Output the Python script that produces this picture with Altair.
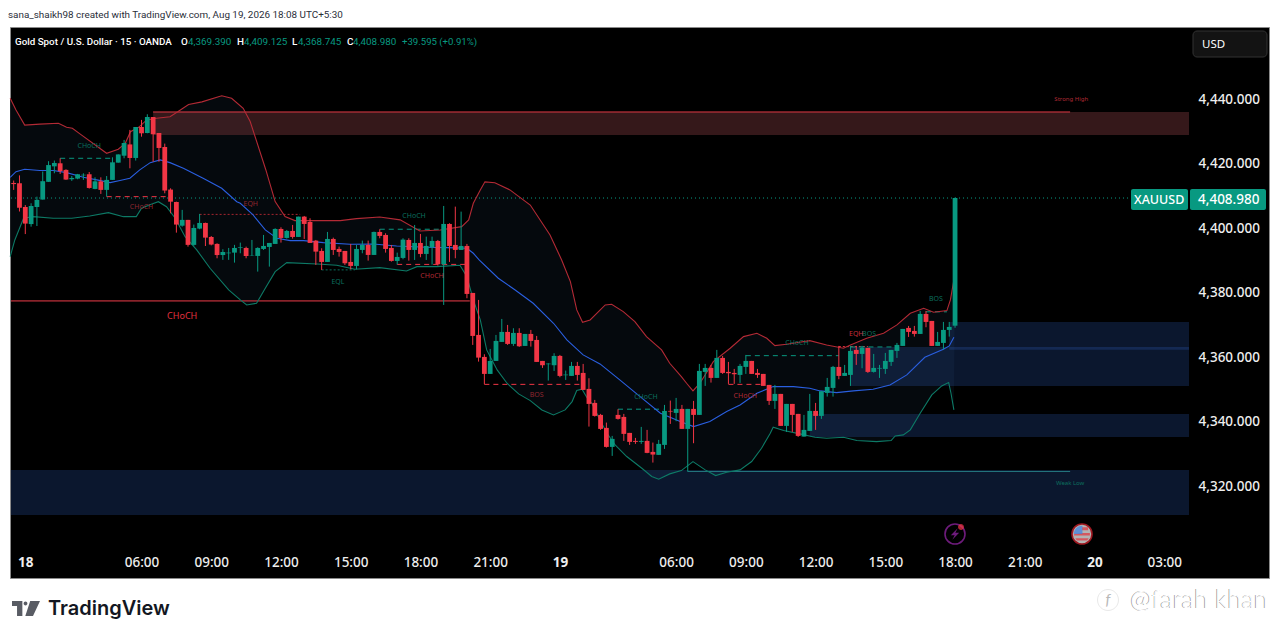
import altair as alt
import pandas as pd

FONT = "Noto Sans"
UI = "Roboto"
GREEN = "#089981"
RED = "#f23645"

first_bar = -22
opens = [4413.65,4413.55,4406.2,4400.9,4406.2,4408.5,4414.0,4418.8,4419.75,4417.7,
 4414.8,4415.0,4416.0,4416.35,4411.8,4414.15,4411.5,4414.6,4419.95,4422.1,
 4425.6,4421.4,4431.0,4429.15,4434.1,4429.15,4424.8,4411.6,4407.75,4400.4,
 4402.2,4394.45,4399.5,4401.25,4396.9,4394.75,4391.3,4391.85,4392.05,4393.5,
 4393.5,4391.12,4391.02,4393.19,4393.81,4394.74,4399.39,4396.6,4398.77,4396.91,
 4403.21,4401.56,4395.77,4392.57,4389.16,4396.29,4393.19,4392.57,4389.16,4387.92,
 4392.88,4394.43,4391.33,4398.46,4397.53,4393.5,4389.47,4390.4,4395.98,4392.88,
 4395.05,4391.64,4393.71,4395.67,4388.44,4400.94,4394.43,4392.88,4394.12,4379.55,
 4366.53,4359.71,4354.44,4358.47,4364.36,4367.46,4363.74,4367.15,4363.12,4366.84,
 4364.98,4358.47,4357.44,4357.13,4360.02,4354.03,4353.82,4356.92,4354.75,4349.79,
 4345.45,4341.73,4337.7,4331.81,4341.73,4341.11,4336.15,4333.67,4333.36,4333.67,
 4330.26,4329.33,4332.43,4342.97,4342.35,4343.59,4337.39,4343.59,4341.73,4355.06,
 4356.3,4353.2,4359.4,4355.06,4354.75,4354.13,4356.61,4358.47,4354.75,4354.44,
 4351.03,4346.07,4348.24,4338.32,4345.14,4342.04,4335.01,4336.77,4342.97,4341.42,
 4348.55,4350.1,4356.61,4353.82,4354.13,4361.88,4360.64,4362.5,4355.06,4356.09,
 4355.99,4358.16,4361.57,4363.12,4368.7,4367.77,4366.84,4373.04,4370.87,4363.12,
 4364.05,4368.08,4369.39]
highs = [4414.4,4416.0,4406.8,4407.35,4409.4,4417.2,4420.4,4420.6,4421.3,4417.9,
 4415.8,4416.45,4416.65,4417.05,4415.4,4415.4,4415.8,4421.6,4422.5,4427.0,
 4430.1,4431.0,4433.2,4434.95,4434.1,4429.15,4425.85,4412.0,4407.85,4405.3,
 4402.2,4400.75,4404.05,4401.35,4397.2,4394.95,4393.1,4393.5,4394.45,4395.15,
 4393.9,4395.98,4393.71,4397.53,4395.05,4399.6,4399.91,4399.08,4400.63,4403.21,
 4403.42,4402.7,4395.98,4393.4,4398.46,4396.7,4393.91,4392.57,4394.74,4394.43,
 4395.77,4395.77,4398.56,4399.29,4398.05,4394.43,4392.05,4396.5,4396.5,4400.63,
 4397.84,4397.01,4397.01,4395.98,4406.52,4401.15,4406.31,4404.76,4394.74,4379.55,
 4377.38,4360.54,4362.19,4366.53,4371.49,4369.63,4368.6,4368.6,4366.84,4368.08,
 4366.22,4358.47,4357.75,4360.85,4360.33,4355.47,4358.16,4358.16,4357.54,4353.1,
 4346.38,4342.04,4339.35,4335.22,4343.49,4342.04,4336.15,4334.6,4338.01,4337.08,
 4333.15,4333.98,4344.83,4346.17,4347.0,4344.83,4343.59,4346.07,4357.54,4357.54,
 4357.23,4361.88,4360.02,4358.16,4355.99,4357.54,4360.33,4358.47,4355.99,4354.44,
 4351.03,4351.03,4348.24,4345.14,4345.14,4342.04,4341.73,4348.24,4345.45,4349.07,
 4353.2,4356.92,4363.12,4357.23,4363.12,4363.12,4363.12,4362.5,4360.64,4357.23,
 4360.95,4361.88,4364.05,4368.39,4369.32,4369.32,4373.97,4373.97,4370.87,4367.46,
 4370.56,4370.56,4409.125]
lows = [4411.5,4404.8,4397.8,4400.1,4400.3,4408.5,4414.0,4416.65,4416.45,4414.6,
 4414.3,4414.8,4414.6,4411.9,4411.7,4410.25,4409.4,4414.6,4419.95,4421.3,
 4418.2,4420.6,4428.0,4429.05,4420.25,4420.25,4410.45,4404.25,4398.25,4400.1,
 4393.9,4394.2,4399.3,4394.1,4394.3,4390.3,4389.8,4389.8,4388.95,4391.85,
 4390.3,4391.02,4386.16,4392.88,4387.71,4394.74,4395.15,4396.39,4396.39,4396.91,
 4396.29,4395.05,4388.23,4386.68,4389.16,4391.33,4390.81,4388.23,4386.89,4386.89,
 4391.85,4389.57,4391.33,4396.5,4392.05,4389.26,4388.33,4389.99,4389.57,4389.78,
 4390.61,4389.78,4388.33,4388.02,4375.83,4389.16,4390.3,4392.88,4377.9,4363.43,
 4358.26,4351.24,4354.44,4358.47,4364.36,4363.43,4363.12,4362.81,4363.12,4362.91,
 4358.16,4356.3,4352.37,4355.37,4353.41,4352.58,4353.82,4352.37,4349.48,4338.11,
 4341.21,4337.08,4331.6,4329.02,4340.28,4333.67,4332.43,4332.74,4332.74,4329.85,
 4326.95,4329.33,4331.19,4338.94,4339.77,4337.39,4324.17,4332.95,4341.73,4350.72,
 4351.75,4353.2,4354.44,4351.34,4351.34,4351.65,4354.44,4354.44,4353.2,4350.72,
 4344.83,4343.59,4338.32,4336.46,4336.46,4334.91,4335.01,4336.77,4337.08,4340.49,
 4347.41,4347.41,4352.79,4353.82,4350.72,4357.23,4356.2,4354.75,4354.85,4353.2,
 4354.44,4356.92,4359.4,4363.12,4365.91,4366.01,4366.84,4368.91,4363.12,4363.12,
 4362.09,4366.01,4368.745]
closes = [4413.3,4406.0,4401.05,4406.5,4408.4,4414.2,4419.2,4419.85,4417.3,4414.7,
 4415.2,4416.35,4416.2,4412.1,4414.15,4411.5,4414.6,4420.05,4422.5,4426.05,
 4421.4,4431.0,4429.05,4434.1,4428.75,4424.5,4411.3,4407.85,4400.75,4402.2,
 4394.45,4399.7,4401.25,4396.7,4394.55,4391.3,4392.25,4392.05,4393.5,4393.7,
 4391.0,4391.23,4393.5,4394.12,4395.05,4399.39,4396.6,4398.77,4396.91,4403.21,
 4400.94,4395.05,4392.36,4389.16,4396.29,4392.88,4392.26,4388.75,4387.92,4393.19,
 4394.43,4391.33,4398.46,4397.22,4393.19,4389.47,4390.71,4396.08,4392.88,4395.05,
 4391.64,4394.12,4395.67,4388.44,4400.94,4394.12,4392.88,4394.12,4379.24,4366.22,
 4359.5,4354.44,4358.47,4364.67,4367.46,4363.74,4367.15,4363.02,4366.84,4364.67,
 4358.16,4357.13,4357.64,4360.02,4353.82,4354.23,4356.92,4354.13,4349.48,4345.14,
 4341.42,4337.39,4331.81,4334.29,4340.49,4335.84,4333.36,4333.36,4333.67,4329.95,
 4329.43,4332.74,4342.97,4342.76,4343.59,4337.39,4343.59,4341.73,4355.37,4356.3,
 4353.2,4359.4,4354.75,4354.65,4354.34,4356.92,4358.47,4354.44,4354.13,4350.72,
 4346.07,4348.24,4338.32,4345.14,4341.73,4335.22,4337.08,4342.97,4341.42,4349.07,
 4350.41,4356.61,4353.82,4354.75,4361.57,4360.64,4362.5,4355.06,4356.3,4356.3,
 4358.47,4361.88,4363.43,4368.39,4367.46,4366.84,4373.04,4370.56,4363.12,4364.36,
 4368.08,4369.01,4408.98]

upper_x = [-22.6,-21.6,-20.1,-17.5,-14.3,-12.9,-11.9,-10.3,-6,-4,-2.8,-1.9,-0.5,0.9,2.6,4.9,6.3,8.1,10.4,13.8,15.5,17.5,18.7,
 21.4,23,24.7,26.4,29.3,34.2,37,41,44.5,47.9,51.4,55.1,56.3,57.1,58.3,59.1,60.8,63.4,66.9,70.3,72.3,73.8,74.9,75.9,77.2,79.8,80.9,
 82.9,84.9,86.9,89.5,90.9,92.9,93.8,94.9,96.1,98.4,101.3,103.6,105.9,107.6,109,111,115,117.9,120.8,122,124.8,127.7,130,132.3,134.6,136.3,138.6,139.2,139.8,140]
upper_p = [4439.9,4436.3,4431.6,4431.9,4432.15,4430.9,4430.6,4428.5,4422.85,4424.1,4425.95,4429.55,4430.9,4433.2,4433.7,4434.2,4435.8,4438,4438.8,4440.7,4439.9,4436.8,4432.7,
 4417.68,4407.86,4403.21,4401.97,4401.97,4401.97,4402.6,4403.1,4402.2,4398.77,4399.08,4400.1,4402.2,4407.35,4411.48,4414,4413.7,4411.5,4406.8,4397.5,4389.78,4383.06,4374.28,4370.46,4371.18,4375.83,4376.04,
 4373.76,4370.66,4366.01,4361.88,4357.75,4353.62,4351.55,4349.17,4351.55,4358.26,4362.4,4366.01,4367.05,4365.5,4363.22,4363.64,4364.77,4363.43,4362.4,4363.43,4365.5,4367.05,4369.63,4373.25,4374.8,4373.56,4374.07,4377.38,4383.58,4388]
lower_x = [-22.6,-21.8,-20.3,-18.6,-15.2,-12,-8.9,-5.7,-3.1,-0.9,0,1.8,2.9,4.3,5.8,7.5,9.5,11.8,15,17,18.1,19.8,21.3,23,25,30.2,33.6,36.7,41,45.6,47.4,50.8,54.8,56,57.1,58.3,59.4,61.2,62.9,64.9,66.9,68.9,70.9,72.9,74.1,74.9,75.8,76.9,77.5,78.9,80.1,81.5,83.5,86.1,87.8,89,90.9,92.9,94.9,97,98.8,100.7,103,105,106.7,108.2,108.7,110.5,113.3,115.9,117.9,120.8,123.1,126.5,129,129.7,131.1,132.3,134,136,137.7,138.9,139.3,139.8]
lower_p = [4390.8,4395.98,4402.7,4403.2,4402.7,4402.7,4403.42,4404.45,4403.2,4403.2,4405.8,4407.15,4407.85,4406.3,4402.7,4397,4392.9,4387.2,4380.5,4377.38,4375.83,4376.35,4381,4386.16,4388.95,4388.54,4388.13,4386.89,4387.4,4386.37,4387.71,4387.71,4388.13,4384.61,4377.38,4371.18,4361.88,4355.68,4351.55,4348.24,4346.17,4343.28,4341.73,4343.28,4345.86,4349.27,4349.69,4346.38,4345.35,4340.18,4336.05,4332.43,4328.82,4325.2,4322.62,4321.79,4323.44,4324.47,4327.26,4324.68,4322.92,4323.96,4324.68,4327.26,4331.4,4336.05,4337.91,4336.87,4335.84,4334.81,4334.5,4334.81,4333.77,4333.46,4333.77,4335.22,4335.53,4337.08,4342.25,4347.93,4350.72,4351.75,4348.45,4343.28]
basis_x = [-22.6,-21.6,-20.1,-17.5,-15.2,-12.9,-10,-7.7,-5.4,-3.7,-2,-0.3,1.5,3.2,4.9,7.2,10.6,13.8,16.4,17,19.2,21.3,23.3,25.6,27.9,31.3,35.9,39.9,43.9,49,52.5,56,57.1,58.1,61.4,64.3,67.4,70.9,73.2,76,78.9,82.3,85.8,89.3,92.7,95,97.8,100.7,103,105.9,108.7,112.2,115,116.8,119.6,122.5,125.9,128.8,131.7,134.8,138,139,139.8]
basis_p = [4415.4,4417.15,4417.9,4417.5,4417.5,4416.85,4415.4,4414.6,4413.75,4414.4,4415.1,4417.7,4419.95,4420.8,4419.95,4418.2,4415.1,4412,4407.85,4407.35,4403.73,4399.08,4396.5,4395.77,4395.77,4395.15,4394.64,4394.74,4394.12,4393.71,4393.6,4393.4,4391.85,4389.78,4384.1,4380.48,4376.35,4370.15,4364.98,4360.33,4357.54,4352.58,4347.42,4342.25,4339.67,4338.11,4339.66,4342.76,4344.83,4348.45,4350.51,4350.51,4349.99,4349.17,4348.65,4349.17,4349.69,4351.03,4354.13,4359.61,4362.09,4363.12,4365.81]

# axis ticks
x_ticks = [-20,0,12,24,36,48,60,72,92,104,116,128,140,152,164,176]
x_tick_labels = ["18","06:00","09:00","12:00","15:00","18:00","21:00","19","06:00","09:00","12:00","15:00","18:00","21:00","20","03:00"]
day_ticks = [-20,72,164]
y_ticks = [4320,4340,4360,4380,4400,4420,4440]

X_LO, X_HI = -22.46, 180.26
Y_LO, Y_HI = 4299.84, 4461.7
zone_x1 = [2, 122, 139, 115, X_LO]
zone_x2 = [X_HI]*5
zone_top = [4435.66, 4362.8, 4370.56, 4342.04, 4324.68]
zone_bot = [4428.53, 4350.7, 4361.9, 4334.9, 4310.73]
zone_col = ["#6a3033", "#3f7fff", "#3f7fff", "#3f7fff", "#3f7fff"]
zone_op = [0.5, 0.18, 0.18, 0.18, 0.18]
zone_order = [0,1,2,3,4]

seg_x1 = [X_LO, 2, 94, -14, -6, 10, 31, 41, 44, 59, 82, 104, 101, 120, 122, 135]
seg_x2 = [56.5, 159.8, 159.8, -5, 5, 27.3, 36.7, 52, 55.7, 75.6, 89.8, 120, 107, 125, 130, 138.6]
seg_p = [4377.07, 4435.66, 4324.2, 4421.3, 4409.4, 4403.9, 4386.7, 4399.3, 4388.4, 4351.2, 4343.5, 4360.1, 4351.2, 4362.9, 4362.8, 4373.7]
seg_c = ["#ee3d4a","#ee3d4a","#2a8f94",GREEN,RED,"#a5262f","#0c6e5e",GREEN,RED,RED,GREEN,GREEN,RED,RED,GREEN,GREEN]
seg_d = ["solid","solid","solid","dash","dash","dot","dot","dash","dash","dash","dash","dash","dash","dot","dash","dash"]

ann_t = ["CHoCH","CHoCH","EQH","EQL","CHoCH","CHoCH","CHoCH","BOS","CHoCH","CHoCH","CHoCH","EQH","BOS","BOS","Strong High","Weak Low"]
ann_x = [-9,0,18.8,33.8,46.9,50,7,68,86.8,112.8,103.9,123,125.2,136.7,160,159.8]
ann_p = [4425.1,4406.2,4407.1,4383,4403.4,4384.8,4372.4,4347.9,4347.3,4364,4347.6,4366.8,4366.8,4377.7,4439.7,4320.7]
ann_c = ["#0b6f5e","#8f2730","#8f2730","#0b6f5e","#0b6f5e","#b02a35","#e0303e","#8f2730","#0b6f5e","#0b6f5e","#b02a35","#c92d39","#0b6f5e","#0b6f5e","#b02a35","#0b6f5e"]
ann_s = [7,7,7,7,7,7,9,7,7,7,7,7,7,7,6,6]

last_price = 4408.98

OX, OY = 11, 28
W, H = 1178, 522
xs = alt.Scale(domain=[X_LO, X_HI], nice=False, zero=False, padding=0)
ys = alt.Scale(domain=[Y_LO, Y_HI], nice=False, zero=False, padding=0)
X = alt.X("x:Q", scale=xs, axis=None)
Y = alt.Y("y:Q", scale=ys, axis=None)
one = pd.DataFrame({"k": [0]})

def box(x1, x2, y1, y2, fill, stroke=None, radius=0, sw=1):
    kw = dict(fill=fill)
    if stroke:
        kw.update(stroke=stroke, strokeWidth=sw)
    if radius:
        kw["cornerRadius"] = radius
    return alt.Chart(one).mark_rect(**kw).encode(
        x=alt.value(x1-OX), x2=alt.value(x2-OX), y=alt.value(y1-OY), y2=alt.value(y2-OY))

def label(t, x, y, color="#ffffff", size=13, weight="normal", align="left", font=FONT, **kw):
    return alt.Chart(one).mark_text(text=t, color=color, fontSize=size, fontWeight=weight, align=align,
                                    baseline="middle", font=font, **kw).encode(
        x=alt.value(x-OX), y=alt.value(y-OY))

def glyph(path, x, y, scale, **kw):
    return alt.Chart(one).mark_point(shape=path, size=(2*scale)**2, **kw).encode(
        x=alt.value(x-OX), y=alt.value(y-OY))

CIRCLE = "M-1,0 A1,1 0 1 1 1,0 A1,1 0 1 1 -1,0 Z"

layers = [box(10.5, 1269.5, 27.5, 578.5, "#000000", stroke="#8a8a8a")]

poly = pd.DataFrame({
    "x": upper_x + lower_x[::-1],
    "y": upper_p + lower_p[::-1],
    "o": list(range(len(upper_x) + len(lower_x)))})
layers.append(alt.Chart(poly).mark_line(fill="#05090d", stroke="#05090d", strokeWidth=0,
                                        interpolate="linear-closed").encode(
    x=X, y=Y, order=alt.Order("o:Q")))

zones = pd.DataFrame({"x": zone_x1, "x2": zone_x2, "y": zone_top, "y2": zone_bot,
                      "c": zone_col, "op": zone_op, "id": zone_order})
layers.append(alt.Chart(zones).mark_rect().encode(
    x=X, x2="x2:Q", y=Y, y2="y2:Q",
    fill=alt.Fill("c:N", scale=None),
    opacity=alt.Opacity("op:Q", scale=None),
    detail="id:N"))

segs = pd.DataFrame({"x": seg_x1, "x2": seg_x2, "y": seg_p, "c": seg_c, "d": seg_d})
layers.append(alt.Chart(segs).mark_rule(strokeWidth=1).encode(
    x=X, x2="x2:Q", y=Y,
    color=alt.Color("c:N", scale=None),
    strokeDash=alt.StrokeDash("d:N", legend=None,
                              scale=alt.Scale(domain=["solid","dash","dot"], range=[[1,0],[5,4],[2,2]]))))

layers.append(alt.Chart(pd.DataFrame({"x":[X_LO],"x2":[170.1],"y":[last_price]})).mark_rule(
    strokeWidth=1, color=GREEN, strokeDash=[1,3]).encode(x=X, x2="x2:Q", y=Y))

for xv, pv, col in [(upper_x, upper_p, "#b32a35"), (lower_x, lower_p, "#0d7a66"), (basis_x, basis_p, "#2a5fe0")]:
    layers.append(alt.Chart(pd.DataFrame({"x": xv, "y": pv})).mark_line(color=col, strokeWidth=1.1).encode(x=X, y=Y))

n = len(opens)
candles = pd.DataFrame({"x": [first_bar+k for k in range(n)], "o": opens, "h": highs, "l": lows, "c": closes})
candles["dir"] = ["up" if c >= o else "down" for o, c in zip(opens, closes)]
cscale = alt.Scale(domain=["up","down"], range=[GREEN, RED])
layers.append(alt.Chart(candles).mark_rule(strokeWidth=1).encode(
    x=alt.X("x:Q", scale=xs, title=None,
            axis=alt.Axis(values=x_ticks, grid=False, domain=False, ticks=False, labelColor="#eeeeee", zindex=1,
                          labelFontSize=13.5, labelFont=FONT, labelPadding=5, labelFlush=False, labelOverlap=False,
                          labelExpr="%s[indexof(%s, datum.value)]" % (x_tick_labels, x_ticks),
                          labelFontWeight={"condition": {"test": "indexof(%s, datum.value) >= 0" % day_ticks, "value": "bold"}, "value": 500})),
    y=alt.Y("l:Q", scale=ys, title=None,
            axis=alt.Axis(orient="right", values=y_ticks, grid=False, domain=False, ticks=False, labelColor="#eeeeee", zindex=1,
                          labelFontSize=13.5, labelFont=FONT, labelFontWeight=500, labelPadding=9, labelOverlap=False, labelOffset=1.4,
                          labelExpr="format(datum.value, ',.3f')")),
    y2="h:Q",
    color=alt.Color("dir:N", scale=cscale, legend=None)))
layers.append(alt.Chart(candles).mark_bar(width=4.8).encode(
    x=alt.X("x:Q", scale=xs, axis=None),
    y=alt.Y("o:Q", scale=ys, axis=None),
    y2="c:Q",
    color=alt.Color("dir:N", scale=cscale, legend=None)))

ann = pd.DataFrame({"x": ann_x, "y": ann_p, "t": ann_t, "c": ann_c, "s": ann_s})
layers.append(alt.Chart(ann).mark_text(font=FONT, baseline="middle", align="center").encode(
    x=X, y=Y, text="t:N",
    color=alt.Color("c:N", scale=None),
    size=alt.Size("s:Q", scale=None)))

layers += [
    label("sana_shaikh98 created with TradingView.com, Aug 19, 2026 18:08 UTC+5:30", 8, 15, color="#2a2e39", size=9.9, font=UI),
    label("Gold Spot / U.S. Dollar · 15 · OANDA", 15, 42, size=9.8, weight=500, font=UI),
    label("O", 181, 42, size=9.9, weight=500, font=UI), label("4,369.390", 188, 42, color=GREEN, size=9.9, font=UI),
    label("H", 237, 42, size=9.9, weight=500, font=UI), label("4,409.125", 244, 42, color=GREEN, size=9.9, font=UI),
    label("L", 292, 42, size=9.9, weight=500, font=UI), label("4,368.745", 298, 42, color=GREEN, size=9.9, font=UI),
    label("C", 347, 42, size=9.9, weight=500, font=UI), label("4,408.980", 353, 42, color=GREEN, size=9.9, font=UI),
    label("+39.595 (+0.91%)", 402, 42, color=GREEN, size=9.6, font=UI),
    box(1193, 1267, 31, 57, "#131313", stroke="#333333", radius=4),
    label("USD", 1202, 45, size=11.5),
    box(1131, 1188, 189, 210, GREEN, radius=2),
    box(1190, 1266, 189, 210, GREEN, radius=2),
    label("XAUUSD", 1134, 200, size=12.5, weight=500),
    label("4,408.980", 1198, 200, size=13.5, weight=500),
    # TradingView wordmark
    glyph("M-1,-0.54 H-0.26 V0.54 H-0.64 V-0.18 H-1 Z M0.3,-0.54 H1 L0.5,0.54 H-0.05 Z", 26, 608.5, 14, fill="#131722", filled=True, strokeWidth=0),
    glyph(CIRCLE, 25.5, 603.5, 1.9, fill="#131722", filled=True, strokeWidth=0),
    label("TradingView", 48, 609, color="#131722", size=20, weight=600, font="Inter"),
    # Watermark
    glyph(CIRCLE, 1108, 600, 10.5, stroke="#d8d8d8", strokeWidth=0.8, fill="#ffffff", filled=True),
    label("f", 1108, 600, color="#b8b8b8", size=15, align="center", font="Lato", fontStyle="italic"),
    label("@farah khan", 1129.6, 599.7, color="#8f8f8f", size=25.7, weight=300, font="Lato"),
    label("@farah khan", 1130.3, 600.2, color="#ffffff", size=25.7, weight=300, font="Lato"),
    # Event icons
    glyph(CIRCLE, 955, 534, 10, stroke="#9c27b0", strokeWidth=1.6, fill="#000000", filled=True),
    glyph("M0.45,-0.95 L-0.7,0.2 H-0.05 L-0.45,0.95 L0.7,-0.2 H0.05 Z", 955, 534, 6, fill="#9c27b0", filled=True, strokeWidth=0),
    glyph(CIRCLE, 961, 527, 3, fill=RED, filled=True, strokeWidth=0),
    glyph(CIRCLE, 1082, 534, 10, stroke="#e3232f", strokeWidth=1.6, fill="#ffffff", filled=True),
    glyph("M0,-0.78 H0.7 V-0.45 H0 Z M0,-0.12 H0.92 V0.18 H-0.92 V0 Z M-0.78,0.48 H0.78 L0.6,0.75 H-0.6 Z", 1082, 534, 8.6, fill="#e3323c", filled=True, strokeWidth=0),
    glyph("M0.05,-0.95 V0 H-0.95 A0.95,0.95 0 0 1 0.05,-0.95 Z", 1082, 534, 8.6, fill="#3b82e6", filled=True, strokeWidth=0),
]

chart = alt.layer(*layers).resolve_scale(x="shared", y="shared").resolve_axis(x="independent", y="independent").properties(
    width=W, height=H, background="#ffffff",
    padding={"left": 3, "top": 20, "right": 84, "bottom": 81},
    autosize=alt.AutoSizeParams(type="none"),
).configure_view(stroke=None)

chart.save("out.html", embed_options={"renderer": "svg", "actions": False})
